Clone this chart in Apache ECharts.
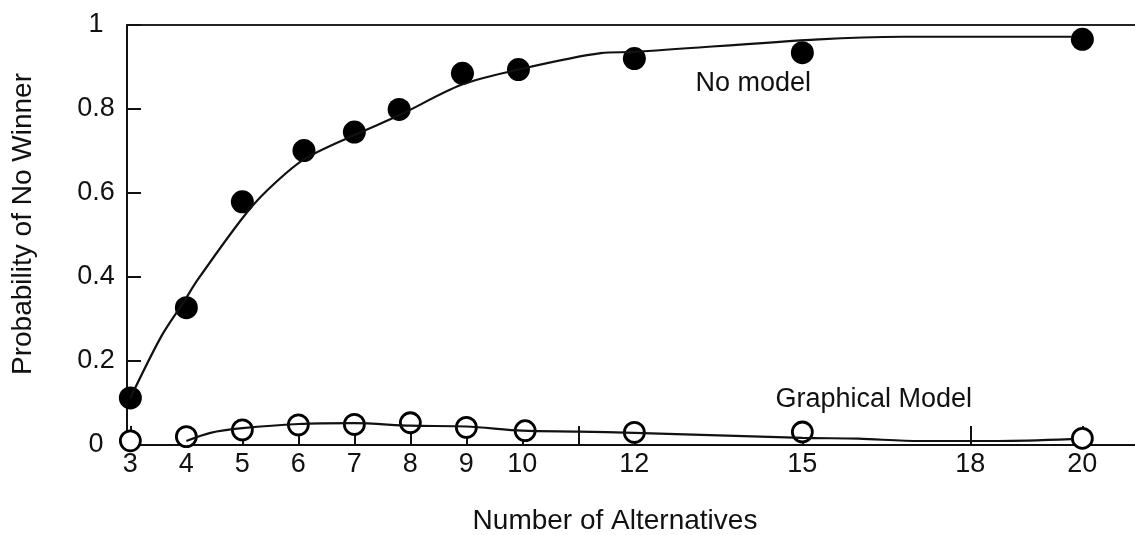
<!DOCTYPE html>
<html><head><meta charset="utf-8">
<script src="https://cdn.jsdelivr.net/npm/echarts@6.0.0/dist/echarts.min.js"></script>
<style>html,body{margin:0;padding:0;background:#fff}#c{width:1135px;height:535px}</style>
</head><body><div id="c"></div>
<script>
// ---- data ----
const noModelX = [3, 4, 5, 6.1, 7, 7.8, 8.93, 9.93, 12, 15, 20];
const noModelY = [0.112, 0.327, 0.579, 0.701, 0.745, 0.799, 0.885, 0.894, 0.92, 0.934, 0.966];
const noModelCurveX = [3, 3.55, 3.95, 4.2, 5, 5.45, 6.1, 7, 7.8, 8.9, 9.9, 11.4, 12, 15.3, 16.8, 18.4, 19.8];
const noModelCurveY = [0.112, 0.258, 0.34, 0.393, 0.54, 0.607, 0.68, 0.738, 0.785, 0.857, 0.893, 0.933, 0.936, 0.966, 0.972, 0.972, 0.972];
const graphX = [3, 4, 5, 6, 7, 8, 9, 10.05, 12, 15, 20];
const graphY = [0.01, 0.02, 0.036, 0.048, 0.049, 0.053, 0.042, 0.034, 0.03, 0.031, 0.016];
const graphCurveX = [4, 4.43, 5, 6, 7, 8, 9, 10, 11, 12, 15, 16, 17.1, 18.5, 19.8];
const graphCurveY = [0.0095, 0.029, 0.04, 0.05, 0.052, 0.046, 0.044, 0.034, 0.032, 0.029, 0.017, 0.015, 0.0095, 0.0095, 0.014];
const xTickValues = [3, 4, 5, 6, 7, 8, 9, 10, 11, 12, 15, 18, 20];
const xLabelValues = [3, 4, 5, 6, 7, 8, 9, 10, 12, 15, 18, 20];
const xTitle = 'Number of Alternatives';
const yTitle = 'Probability of No Winner';
const seriesNames = ['No model', 'Graphical Model'];
const noteAnchors = [[13.09, 0.861], [14.52, 0.108]];

const FONT = "'Liberation Sans', Arial, sans-serif";
const INK = '#111';
const zip = (xs, ys) => xs.map((x, i) => [x, ys[i]]);

const chart = echarts.init(document.getElementById('c'));
const xCommon = { type: 'value', min: 2.94, max: 20.94, splitLine: { show: false } };
chart.setOption({
  animation: false,
  backgroundColor: '#fff',
  grid: { left: 127, right: 0, top: 25, bottom: 90, containLabel: false, outerBoundsMode: 'none' },
  xAxis: [
    Object.assign({}, xCommon, {
      position: 'bottom',
      name: xTitle, nameLocation: 'middle', nameGap: 62,
      nameTextStyle: { fontFamily: FONT, fontSize: 28, color: INK, padding: [0, 32, 0, 0] },
      axisLine: { show: true, lineStyle: { color: INK, width: 2 } },
      axisTick: { show: true, inside: true, length: 19, customValues: xTickValues, lineStyle: { color: INK, width: 2 } },
      axisLabel: { customValues: xLabelValues, margin: 6, fontFamily: FONT, fontSize: 27, color: INK }
    }),
    Object.assign({}, xCommon, {
      position: 'top',
      axisLine: { show: true, lineStyle: { color: '#222', width: 2 } },
      axisTick: { show: false }, axisLabel: { show: false }
    })
  ],
  yAxis: {
    type: 'value', min: 0, max: 1, interval: 0.2,
    name: yTitle, nameLocation: 'middle', nameGap: 90, nameRotate: 90,
    nameTextStyle: { fontFamily: FONT, fontSize: 28, color: INK, padding: [0, 0, 0, 22] },
    axisLine: { show: true, lineStyle: { color: INK, width: 2 } },
    axisTick: { show: true, inside: true, length: 14, lineStyle: { color: INK, width: 2 } },
    axisLabel: { margin: 31, align: 'center', padding: [0, 0, 15, 0], fontFamily: FONT, fontSize: 27, color: INK },
    splitLine: { show: false }
  },
  series: [
    { name: seriesNames[0], type: 'scatter', data: zip(noModelX, noModelY), symbol: 'circle', symbolSize: 23,
      itemStyle: { color: '#000', opacity: 1 }, z: 2 },
    { name: seriesNames[1], type: 'scatter', data: zip(graphX, graphY), symbol: 'circle', symbolSize: 20,
      itemStyle: { color: '#fff', borderColor: '#000', borderWidth: 2.8, opacity: 1 }, z: 2 },
    { type: 'line', data: zip(noModelCurveX, noModelCurveY), smooth: 0.3, symbol: 'none',
      lineStyle: { color: INK, width: 2.2 }, z: 3 },
    { type: 'line', data: zip(graphCurveX, graphCurveY), smooth: 0.3, symbol: 'none',
      lineStyle: { color: INK, width: 2.2 }, z: 3 }
  ]
});

const notes = seriesNames.map((name, i) => {
  const p = chart.convertToPixel({ xAxisIndex: 0, yAxisIndex: 0 }, noteAnchors[i]);
  return { type: 'text', x: p[0], y: p[1],
    style: { text: name, fontFamily: FONT, fontSize: 27, fill: INK, align: 'left', verticalAlign: 'middle' } };
});
chart.setOption({ graphic: notes });
</script></body></html>
